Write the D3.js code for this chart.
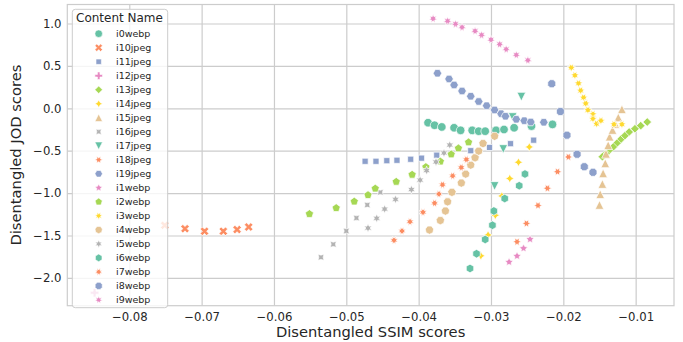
<!DOCTYPE html>
<html><head><meta charset="utf-8">
<script src="https://cdn.jsdelivr.net/npm/d3@7"></script>
<style>body{margin:0;background:#fff;} svg text{font-family:"DejaVu Sans",sans-serif;}</style>
</head><body><svg id="c" width="683" height="342"></svg>
<script>
const categories = ["i0webp","i10jpeg","i11jpeg","i12jpeg","i13jpeg","i14jpeg","i15jpeg","i16jpeg","i17jpeg","i18jpeg","i19jpeg","i1webp","i2webp","i3webp","i4webp","i5webp","i6webp","i7webp","i8webp","i9webp"];
const xTicks = [-0.08,-0.07,-0.06,-0.05,-0.04,-0.03,-0.02,-0.01];
const yTicks = [-2.0,-1.5,-1.0,-0.5,0.0,0.5,1.0];

const i0webp = [[-0.0387,-0.17],[-0.0378,-0.20],[-0.0368,-0.22],[-0.0351,-0.23],[-0.0342,-0.26],[-0.0326,-0.26],[-0.0317,-0.27],[-0.0308,-0.27],[-0.0293,-0.26],[-0.0282,-0.25],[-0.0268,-0.23],[-0.0244,-0.21],[-0.0215,-0.19]];
const i10jpeg = [[-0.0751,-1.38],[-0.0723,-1.42],[-0.0696,-1.45],[-0.0670,-1.45],[-0.0651,-1.43],[-0.0635,-1.40]];
const i11jpeg = [[-0.0474,-0.625],[-0.0459,-0.625],[-0.0444,-0.618],[-0.0430,-0.613],[-0.0411,-0.601],[-0.0396,-0.588],[-0.0375,-0.553],[-0.0328,-0.500],[-0.0302,-0.462],[-0.0273,-0.417],[-0.0241,-0.376]];
const i12jpeg = [[-0.0848,-2.175]];
const i13jpeg = [[-0.0084,-0.162],[-0.0093,-0.205],[-0.0101,-0.241],[-0.0109,-0.280],[-0.0115,-0.324],[-0.0121,-0.370],[-0.0126,-0.413],[-0.0131,-0.456],[-0.0137,-0.498],[-0.0141,-0.536],[-0.0146,-0.571]];
const i14jpeg = [[-0.0247,-0.456],[-0.0262,-0.636],[-0.0274,-0.828],[-0.0285,-1.034],[-0.0294,-1.262],[-0.0304,-1.494],[-0.0314,-1.740]];
const i15jpeg = [[-0.0150,-1.140],[-0.0149,-1.014],[-0.0146,-0.893],[-0.0145,-0.767],[-0.0142,-0.649],[-0.0141,-0.537],[-0.0138,-0.436],[-0.0136,-0.335],[-0.0132,-0.256],[-0.0128,-0.185],[-0.0124,-0.108],[-0.0119,-0.012]];
const i16jpeg = [[-0.0535,-1.757],[-0.0518,-1.604],[-0.0500,-1.447],[-0.0486,-1.294],[-0.0471,-1.140],[-0.0453,-0.991]];
const i17jpeg = [[-0.0258,0.137],[-0.0270,-0.103],[-0.0283,-0.480],[-0.0295,-0.916]];
const i18jpeg = [[-0.0193,-0.574],[-0.0208,-0.748],[-0.0222,-0.943],[-0.0235,-1.146],[-0.0251,-1.358],[-0.0264,-1.574]];
const i19jpeg = [[-0.0374,0.413],[-0.0358,0.346],[-0.0351,0.275],[-0.0340,0.204],[-0.0328,0.142],[-0.0317,0.080],[-0.0306,0.031],[-0.0295,-0.020],[-0.0286,-0.064],[-0.0280,-0.094],[-0.0265,-0.130],[-0.0254,-0.146],[-0.0245,-0.162],[-0.0227,-0.165]];
const i1webp = [[-0.0246,-1.545],[-0.0255,-1.651],[-0.0264,-1.742],[-0.0275,-1.813]];
const i2webp = [[-0.0551,-1.246],[-0.0514,-1.176],[-0.0489,-1.099],[-0.0470,-1.023],[-0.0460,-0.946],[-0.0431,-0.866],[-0.0409,-0.783],[-0.0390,-0.692],[-0.0370,-0.627],[-0.0355,-0.543],[-0.0345,-0.472],[-0.0331,-0.401]];
const i3webp = [[-0.0189,0.479],[-0.0184,0.389],[-0.0179,0.295],[-0.0176,0.210],[-0.0172,0.127],[-0.0169,0.057],[-0.0166,-0.020],[-0.0159,-0.070],[-0.0159,-0.123],[-0.0154,-0.182],[-0.0148,-0.146],[-0.0130,-0.189],[-0.0119,-0.189]];
const i4webp = [[-0.0385,-1.435],[-0.0370,-1.323],[-0.0363,-1.211],[-0.0360,-1.102],[-0.0354,-0.990],[-0.0341,-0.881],[-0.0335,-0.775],[-0.0328,-0.669],[-0.0322,-0.583],[-0.0317,-0.504],[-0.0311,-0.415],[-0.0295,-0.329]];
const i5webp = [[-0.0470,-1.412],[-0.0458,-1.297],[-0.0447,-1.188],[-0.0432,-1.073],[-0.0410,-0.958],[-0.0398,-0.846],[-0.0389,-0.734],[-0.0376,-0.633],[-0.0365,-0.527],[-0.0357,-0.433]];
const i6webp = [[-0.0253,-0.775],[-0.0261,-0.913],[-0.0281,-1.064],[-0.0296,-1.211],[-0.0298,-1.379],[-0.0308,-1.547],[-0.0320,-1.715],[-0.0329,-1.889]];
const i7webp = [[-0.0434,-1.557],[-0.0423,-1.447],[-0.0412,-1.337],[-0.0394,-1.226],[-0.0378,-1.119],[-0.0372,-1.011],[-0.0367,-0.901],[-0.0353,-0.796],[-0.0341,-0.698],[-0.0334,-0.604]];
const i8webp = [[-0.0216,0.290],[-0.0204,-0.038],[-0.0195,-0.317],[-0.0181,-0.542],[-0.0171,-0.689],[-0.0159,-0.755]];
const i9webp = [[-0.0380,1.057],[-0.0360,1.029],[-0.0349,0.994],[-0.0340,0.955],[-0.0322,0.911],[-0.0313,0.864],[-0.0300,0.809],[-0.0288,0.755],[-0.0279,0.696],[-0.0265,0.629],[-0.0249,0.566]];

const seriesValues = [i0webp,i10jpeg,i11jpeg,i12jpeg,i13jpeg,i14jpeg,i15jpeg,i16jpeg,i17jpeg,i18jpeg,i19jpeg,i1webp,i2webp,i3webp,i4webp,i5webp,i6webp,i7webp,i8webp,i9webp];

const palette = ["#66c2a5","#fc8d62","#8da0cb","#e78ac3","#a6d854","#ffd92f","#e5c494","#b3b3b3"];
// seaborn default marker sequence
const markerSpecs = [
  {k:"circle"},{k:"X"},{k:"poly",n:4,r:45},{k:"P"},{k:"poly",n:4,r:0},{k:"star",n:4,r:0},{k:"tri",up:true},{k:"star",n:4,r:45},{k:"tri",up:false},
  {k:"star",n:6,r:30},{k:"poly",n:6,r:30},{k:"star",n:5,r:0},{k:"poly",n:5,r:0},
  {k:"star",n:7,r:360/7/2},{k:"poly",n:7,r:360/7/2},{k:"star",n:6,r:0},{k:"poly",n:6,r:0},
  {k:"star",n:8,r:22.5},{k:"poly",n:8,r:22.5},{k:"star",n:7,r:0}
];

function markerPath(spec, M){
  let pts;
  if(spec.k==="circle"){
    const r=M/2;
    return `M${r},0A${r},${r} 0 1,1 ${-r},0A${r},${r} 0 1,1 ${r},0Z`;
  }
  if(spec.k==="X"){
    pts=[[-1,-2],[0,-1],[1,-2],[2,-1],[1,0],[2,1],[1,2],[0,1],[-1,2],[-2,1],[-1,0],[-2,-1]].map(p=>[p[0]/4*M,p[1]/4*M]);
  } else if(spec.k==="P"){
    pts=[[-1,-3],[1,-3],[1,-1],[3,-1],[3,1],[1,1],[1,3],[-1,3],[-1,1],[-3,1],[-3,-1],[-1,-1]].map(p=>[p[0]/6*M,p[1]/6*M]);
  } else if(spec.k==="tri"){
    pts=[[0,1],[-1,-1],[1,-1]].map(p=>[p[0]*M/2,(spec.up?1:-1)*p[1]*M/2]);
  } else {
    const n=spec.n, rot=spec.r*Math.PI/180;
    pts=[];
    if(spec.k==="poly"){
      for(let i=0;i<n;i++){const t=2*Math.PI*i/n+Math.PI/2+rot;pts.push([Math.cos(t)*M/2,Math.sin(t)*M/2]);}
    } else {
      for(let i=0;i<2*n;i++){const t=Math.PI*i/n+Math.PI/2+rot;const rr=(i%2===0?1:0.5)*M/2;pts.push([Math.cos(t)*rr,Math.sin(t)*rr]);}
    }
  }
  return "M"+pts.map(p=>`${p[0].toFixed(3)},${(-p[1]).toFixed(3)}`).join("L")+"Z";
}

const W=683,H=342;
const L=67.3,R=674,T=4.5,B=305.7;
const svg=d3.select("#c");
const x=d3.scaleLinear().domain([-0.08857,-0.0047]).range([L,R]);
const y=d3.scaleLinear().domain([-2.328,1.224]).range([B,T]);

const gridColor="#cccccc", textColor="#262626";

// x grid + labels
const gx=svg.append("g").attr("transform",`translate(0,${B})`)
  .call(d3.axisBottom(x).tickValues(xTicks).tickSize(-(B-T)).tickPadding(7).tickFormat(d3.format(".2f")));
gx.select(".domain").remove();
gx.selectAll(".tick line").attr("stroke",gridColor).attr("stroke-width",1.2);
gx.selectAll(".tick text").attr("fill",textColor).style("font-size","11.7px").attr("font-family","DejaVu Sans");

const gy=svg.append("g").attr("transform",`translate(${L},0)`)
  .call(d3.axisLeft(y).tickValues(yTicks).tickSize(-(R-L)).tickPadding(5.8).tickFormat(d3.format(".1f")));
gy.select(".domain").remove();
gy.selectAll(".tick line").attr("stroke",gridColor).attr("stroke-width",1.2);
gy.selectAll(".tick text").attr("fill",textColor).style("font-size","11.7px").attr("font-family","DejaVu Sans");

// frame
svg.append("rect").attr("x",L).attr("y",T).attr("width",R-L).attr("height",B-T)
  .attr("fill","none").attr("stroke",gridColor).attr("stroke-width",1.2);

// points
const M=8.6;
seriesValues.forEach((vals,i)=>{
  const col=palette[i%palette.length];
  const d=markerPath(markerSpecs[i],M);
  svg.append("g").selectAll("path").data(vals).join("path")
    .attr("d",d)
    .attr("transform",p=>`translate(${x(p[0])},${y(p[1])})`)
    .attr("fill",col).attr("stroke","#ffffff").attr("stroke-width",0.7);
});

// axis labels
svg.append("text").attr("x",(L+R)/2).attr("y",337).attr("text-anchor","middle")
  .attr("fill",textColor).style("font-size","14.7px").text("Disentangled SSIM scores");
svg.append("text").attr("transform",`translate(20.5,${(T+B)/2}) rotate(-90)`).attr("text-anchor","middle")
  .attr("fill",textColor).style("font-size","14.7px").text("Disentangled JOD scores");

// legend
const lg=svg.append("g");
lg.append("rect").attr("x",72.3).attr("y",9.3).attr("width",95.4).attr("height",298.4).attr("rx",3)
  .attr("fill","#ffffff").attr("fill-opacity",0.8).attr("stroke",gridColor).attr("stroke-width",1);
lg.append("text").attr("x",76).attr("y",22.3).attr("fill",textColor).style("font-size","12px").text("Content Name");
categories.forEach((c,i)=>{
  const cy=33.7+i*14.01;
  lg.append("path").attr("d",markerPath(markerSpecs[i],7.6)).attr("transform",`translate(98.7,${cy})`)
    .attr("fill",palette[i%palette.length]).attr("stroke","#ffffff").attr("stroke-width",0.6);
  lg.append("text").attr("x",116).attr("y",cy+3.5).attr("fill",textColor).style("font-size","9.5px").text(c);
});
</script></body></html>
